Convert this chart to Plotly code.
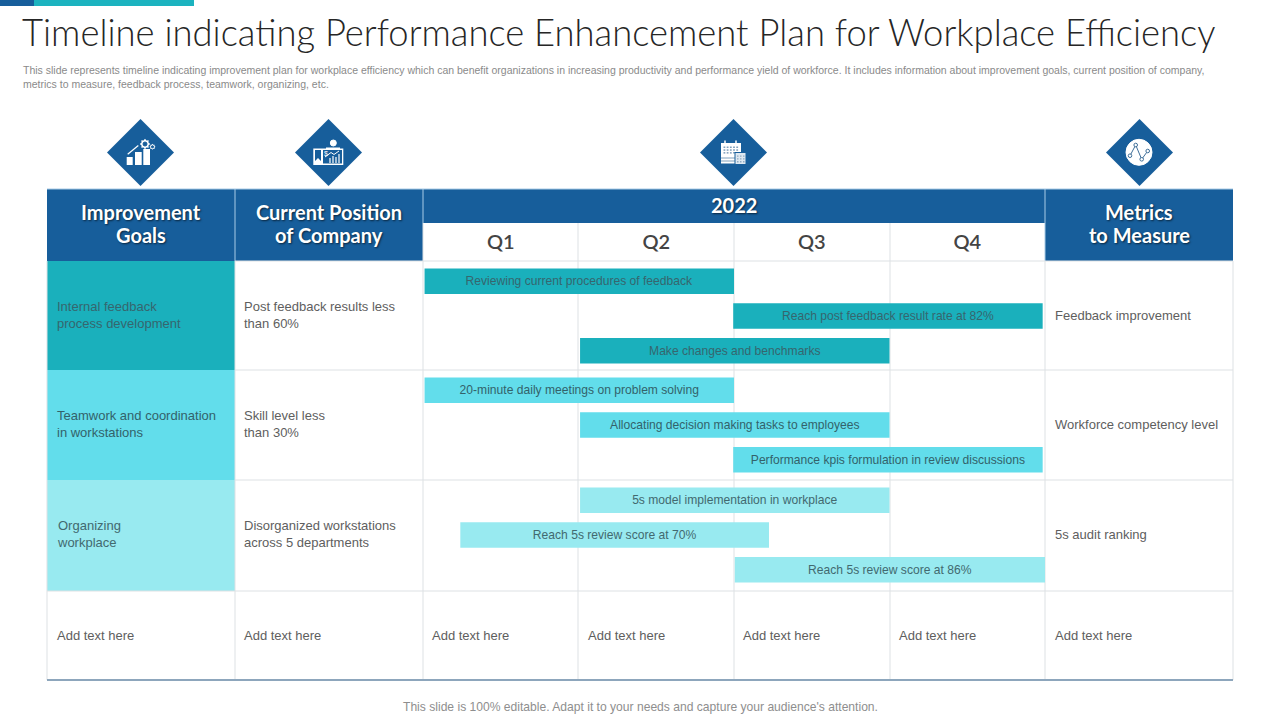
import math
import plotly.graph_objects as go

# Slide text
title = 'Timeline indicating Performance Enhancement Plan for Workplace Efficiency'
subtitle = ('This slide represents timeline indicating improvement plan for workplace efficiency which can benefit '
            'organizations in increasing productivity and performance yield of workforce. It includes information about '
            'improvement goals, current position of company,<br>metrics to measure, feedback process, teamwork, organizing, etc.')
footer = "This slide is 100% editable. Adapt it to your needs and capture your audience's attention."
year = '2022'
quarters = ['Q1', 'Q2', 'Q3', 'Q4']
goal_header = ['Improvement', 'Goals']
position_header = ['Current Position', 'of Company']
metric_header = ['Metrics', 'to Measure']
goals = ['Internal feedback<br>process development', 'Teamwork and coordination<br>in workstations', 'Organizing<br>workplace']
positions = ['Post feedback results less<br>than 60%', 'Skill level less<br>than 30%', 'Disorganized workstations<br>across 5 departments']
metrics = ['Feedback improvement', 'Workforce competency level', '5s audit ranking']
placeholder = 'Add text here'

# Timeline tasks, start and end in quarters from the beginning of 2022
tasks = ['Reviewing current procedures of feedback', 'Reach post feedback result rate at 82%', 'Make changes and benchmarks',
         '20-minute daily meetings on problem solving', 'Allocating decision making tasks to employees', 'Performance kpis formulation in review discussions',
         '5s model implementation in workplace', 'Reach 5s review score at 70%', 'Reach 5s review score at 86%']
task_goal = [0, 0, 0, 1, 1, 1, 2, 2, 2]
task_start = [0.01, 1.995, 1.01, 0.01, 1.01, 1.995, 1.01, 0.24, 2.005]
task_end = [2.0, 3.985, 3.0, 2.0, 3.0, 3.985, 3.0, 2.225, 4.0]

# Layout in page pixels
NAVY = '#175E9B'
GRID = '#DDE1E4'
HEAD_LINE = '#A9CBE6'
goal_colors = ['#1AB0BC', '#62DDEB', '#98EAF0']
bar_text_colors = ['#36666E', '#33626A', '#42696F']
col_x = [47, 235, 423, 578, 734, 890, 1045, 1233]
row_y = [261, 370, 480, 591, 680]
row_mid = [316, 425, 535]
bar_step = 34.7
BODY = 'Liberation Sans'
HEAD = 'Lato'
TEXT = '#5E5E5E'

shapes = []
annotations = []


def rect(x0, y0, x1, y1, color, layer='below'):
    shapes.append(dict(type='rect', xref='x', yref='y', x0=x0, y0=y0, x1=x1, y1=y1,
                       fillcolor=color, line_width=0, layer=layer))


def hline(x0, y0, x1, y1, color, width=1, layer='below'):
    shapes.append(dict(type='line', xref='x', yref='y', x0=x0, y0=y0, x1=x1, y1=y1,
                       line=dict(color=color, width=width), layer=layer))


def path(d, fill=None, line=None, width=1):
    shapes.append(dict(type='path', xref='x', yref='y', path=d, fillcolor=fill or 'rgba(0,0,0,0)',
                       line=dict(color=line or 'rgba(0,0,0,0)', width=width), layer='above'))


def dot(x, y, r, fill, line=None, width=1):
    shapes.append(dict(type='circle', xref='x', yref='y', x0=x - r, y0=y - r, x1=x + r, y1=y + r,
                       fillcolor=fill, line=dict(color=line or fill, width=width), layer='above'))


def label(x, y, text, size=13, color=TEXT, anchor='left', family=BODY, weight=None, shadow=None):
    annotations.append(dict(xref='x', yref='y', x=x, y=y, text=text, showarrow=False, xanchor=anchor, yanchor='middle',
                            align=anchor,
                            font=dict(size=size, color=color, family=family, weight=weight, shadow=shadow)))


def gear(x, y, r, hole):
    # small cog: a ring of teeth around a disc
    pts = []
    for i in range(16):
        a = i * math.pi / 8
        rad = r if i % 2 == 0 else r * 0.72
        pts.append(f'{x + rad * math.cos(a):.2f},{y + rad * math.sin(a):.2f}')
    path('M' + ' L'.join(pts) + ' Z', fill='white')
    dot(x, y, hole, NAVY)


# Top strip
rect(0, 0, 34, 6, NAVY)
rect(34, 0, 194, 6, '#1CB3BF')

# Header blocks
rect(47, 189, 423, 261, NAVY)
rect(423, 189, 1045, 223, NAVY)
rect(1045, 189, 1233, 261, NAVY)
for x in [235, 1045]:
    hline(x, 189, x, 261, HEAD_LINE)
hline(423, 189, 423, 223, HEAD_LINE)
hline(47, 189, 1233, 189, HEAD_LINE)

# Coloured goal cells and grid
for i, color in enumerate(goal_colors):
    rect(47, row_y[i], 235, row_y[i + 1], color)
for x in col_x:
    hline(x, 261 if x in (47, 235, 1045, 1233) else 223, x, 680, GRID)
for y in row_y[:-1]:
    hline(235, y, 1233, y, GRID)
hline(47, 591, 235, 591, GRID)
hline(47, 680, 1233, 680, '#8DA6BC', 2)

# Header text
shadow = '1px 1px 2px rgba(0,0,0,0.6)'
for cx, lines in [(141, goal_header), (329, position_header), (1139, metric_header)]:
    label(cx, 211.5, lines[0], 20, 'white', 'center', HEAD, 700, shadow)
    label(cx, 234.5, lines[1], 20, 'white', 'center', HEAD, 700, shadow)
label(734, 205, year, 20, 'white', 'center', HEAD, 700, shadow)

# Table body text
for i in range(3):
    label(55, row_mid[i] - 1, goals[i], 13, bar_text_colors[i])
    label(242, row_mid[i] - 1, positions[i], 13)
    label(1053, row_mid[i] - 1, metrics[i], 13)
for x in [55, 242, 430, 586, 741, 897, 1053]:
    label(x, 635.5, placeholder, 13)

# Title block
label(20, 32, title, 36.4, '#262626', family='Lato', weight=300)
label(21, 77, subtitle, 10.5, '#8A8A8A')
label(640, 707, footer, 12.1, '#8E8E8E', 'center')

# Diamonds behind the icons
for cx in [140.5, 328.5, 733.5, 1139.5]:
    path(f'M{cx - 33.5},152.5 L{cx},119 L{cx + 33.5},152.5 L{cx},186 Z', fill=NAVY)

# Icon 1: growth bars and gears
rect(126.7, 157, 132.7, 165, 'white', 'above')
rect(135, 152, 141.7, 165, 'white', 'above')
rect(143.3, 149, 150, 165, 'white', 'above')
hline(127.7, 154.3, 138.3, 145.5, 'white', 1.2, 'above')
gear(145, 144, 5.2, 2)
gear(152.5, 146.8, 3, 1.1)

# Icon 2: presenter with a board
rect(313.3, 148.5, 343.3, 165, 'white', 'above')
rect(323, 150, 342, 163.5, NAVY, 'above')
path('M315,150 L321,150 L321,161 L318,158 L315,161 Z', fill=NAVY)
dot(333.3, 143, 3, 'white')
rect(326, 147.5, 340, 150, 'white', 'above')
for x, top in zip([330, 333, 336, 339], [158, 156, 157, 154]):
    hline(x, top, x, 163, 'white', 1.2, 'above')
path('M325,157 L331,152.5 L334,154.5 L339,151', line='white', width=1)
label(325.5, 153, '$', 7, 'white', 'center')

# Icon 3: two calendars
rect(721, 143, 741, 163.5, 'white', 'above')
hline(725, 140.5, 725, 145, 'white', 1.5, 'above')
hline(736, 140.5, 736, 145, 'white', 1.5, 'above')
for r in range(3):
    for c in range(5):
        rect(723.5 + c * 3.2, 146.5 + r * 2.8, 725.3 + c * 3.2, 148 + r * 2.8, '#7F9FBC', 'above')
hline(721, 158, 741, 158, '#7F9FBC', 1, 'above')
hline(721, 161, 741, 161, '#7F9FBC', 1, 'above')
rect(734.5, 152, 746, 164.5, NAVY, 'above')
rect(735.5, 153, 745.5, 164, '#DDE8F1', 'above')
for r in range(3):
    for c in range(3):
        rect(737 + c * 3, 155.5 + r * 2.8, 738.5 + c * 3, 156.8 + r * 2.8, '#8FAAC3', 'above')

# Icon 4: line trend in a disc
dot(1139, 152.3, 13, 'white')
path('M1130,155.7 L1135.7,145 L1141.7,159.3 L1147.7,151', line='#3F6F99', width=1)
for x, y in [(1130, 155.7), (1135.7, 145), (1141.7, 159.3), (1147.7, 151)]:
    dot(x, y, 1.8, 'white', '#3F6F99', 1)

# Timeline bars, the rows stack around the middle of their goal row
bar_y = [row_mid[g] + (i % 3 - 1) * bar_step for i, g in enumerate(task_goal)]
bar_len = [e - s for s, e in zip(task_start, task_end)]

fig = go.Figure()
fig.add_trace(go.Bar(
    x=bar_len, base=task_start, y=bar_y, orientation='h', width=25.5, xaxis='x2', yaxis='y',
    marker=dict(color=[goal_colors[g] for g in task_goal], line_width=0),
    text=tasks, textposition='inside', insidetextanchor='middle', textangle=0,
    constraintext='none', cliponaxis=False,
    textfont=dict(family=BODY, size=12.1, color=[bar_text_colors[g] for g in task_goal]),
    hovertemplate='%{text}<extra></extra>',
))

fig.update_layout(
    width=1280, height=720, margin=dict(l=0, r=0, t=0, b=0),
    paper_bgcolor='white', plot_bgcolor='rgba(0,0,0,0)', showlegend=False, barmode='overlay',
    # first axis is the whole page in pixels, used for the table furniture
    xaxis=dict(domain=[0, 1], range=[0, 1280], visible=False),
    # quarters axis covers only the timeline columns, its labels are the Q1..Q4 header
    xaxis2=dict(domain=[col_x[2] / 1280, col_x[6] / 1280], range=[0, 4], side='top', anchor='free',
                position=1 - 253 / 720, tickvals=[0.5, 1.5, 2.5, 3.5], ticktext=quarters, ticks='',
                showgrid=False, zeroline=False, showline=False,
                tickfont=dict(family=HEAD, size=20, color='#444444', weight=600)),
    yaxis=dict(domain=[0, 1], range=[720, 0], visible=False),
    shapes=shapes, annotations=annotations,
)

# drop the default page margin so the figure fills the window
fig.write_html('out.html', config=dict(displayModeBar=False), post_script="document.body.style.margin='0';")
